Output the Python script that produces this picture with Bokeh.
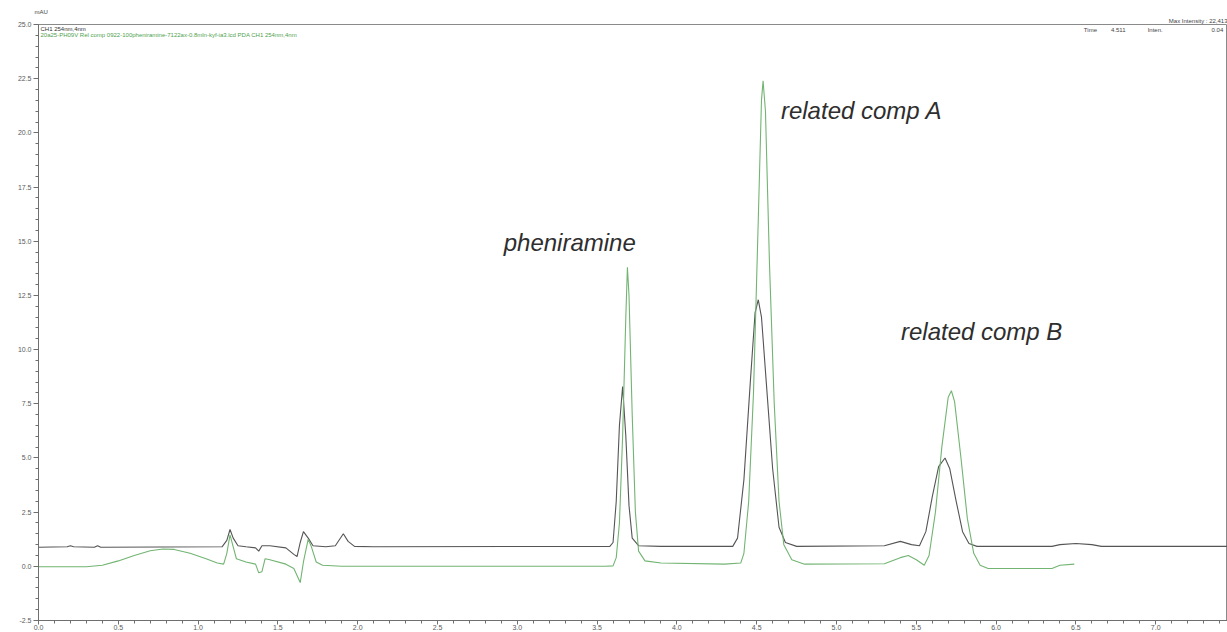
from bokeh.plotting import figure
from bokeh.models import Range1d, FixedTicker, PrintfTickFormatter, Label, Title
from bokeh.embed import file_html
from bokeh.resources import INLINE

# Retention time (min) and absorbance (mAU) of the two overlaid PDA traces, CH1 254 nm
green_time = [0.00, 0.30, 0.40, 0.50, 0.60, 0.70, 0.78, 0.85, 0.95, 1.05, 1.12, 1.16, 1.18, 1.20,
              1.22, 1.24, 1.30, 1.36, 1.38, 1.40, 1.42, 1.45, 1.55, 1.60, 1.64, 1.66, 1.69, 1.71,
              1.74, 1.78, 1.90, 3.55, 3.60, 3.62, 3.64, 3.66, 3.68, 3.69, 3.70, 3.72, 3.74, 3.76,
              3.80, 3.90, 4.30, 4.40, 4.42, 4.45, 4.48, 4.51, 4.53, 4.54, 4.555, 4.58, 4.61, 4.64,
              4.67, 4.72, 4.80, 5.30, 5.40, 5.45, 5.50, 5.55, 5.58, 5.62, 5.66, 5.70, 5.72, 5.74,
              5.78, 5.82, 5.86, 5.90, 5.95, 6.35, 6.40, 6.49]
green_mau = [-0.02, -0.02, 0.05, 0.25, 0.50, 0.72, 0.80, 0.78, 0.60, 0.35, 0.15, 0.10, 0.60, 1.45,
             0.90, 0.35, 0.20, 0.10, -0.30, -0.25, 0.35, 0.30, 0.10, -0.10, -0.75, 0.20, 1.25, 0.90,
             0.20, 0.05, 0.00, 0.00, 0.02, 0.40, 2.00, 6.00, 11.50, 13.80, 12.50, 7.00, 2.50, 0.70,
             0.25, 0.15, 0.10, 0.15, 0.60, 3.00, 8.00, 16.00, 21.50, 22.40, 21.00, 14.00, 7.50, 3.00,
             1.00, 0.30, 0.10, 0.12, 0.40, 0.50, 0.30, 0.05, 0.50, 2.50, 5.50, 7.80, 8.10, 7.60,
             5.00, 2.20, 0.60, 0.05, -0.10, -0.10, 0.05, 0.10]

dark_time = [0.00, 0.18, 0.20, 0.22, 0.35, 0.37, 0.39, 1.15, 1.18, 1.20, 1.22, 1.25, 1.30, 1.36,
             1.38, 1.40, 1.45, 1.55, 1.60, 1.62, 1.64, 1.66, 1.69, 1.72, 1.80, 1.86, 1.91, 1.94,
             1.98, 2.10, 3.58, 3.60, 3.62, 3.64, 3.66, 3.68, 3.70, 3.72, 3.76, 3.90, 4.35, 4.38,
             4.42, 4.46, 4.49, 4.51, 4.53, 4.56, 4.60, 4.64, 4.68, 4.75, 5.30, 5.40, 5.47, 5.52,
             5.56, 5.60, 5.64, 5.68, 5.71, 5.75, 5.79, 5.83, 5.88, 6.35, 6.40, 6.50, 6.60, 6.66,
             7.45]
dark_mau = [0.88, 0.90, 0.95, 0.90, 0.88, 0.95, 0.88, 0.90, 1.20, 1.70, 1.30, 0.95, 0.90, 0.85,
            0.70, 0.95, 0.95, 0.85, 0.55, 0.45, 1.10, 1.60, 1.30, 0.95, 0.90, 0.95, 1.50, 1.15,
            0.92, 0.90, 0.92, 1.10, 3.00, 6.50, 8.30, 6.00, 2.80, 1.30, 0.95, 0.92, 0.92, 1.30,
            4.00, 8.50, 11.70, 12.30, 11.50, 8.50, 4.50, 1.80, 1.10, 0.92, 0.95, 1.15, 1.00, 0.95,
            1.60, 3.20, 4.60, 5.00, 4.50, 3.00, 1.60, 1.05, 0.92, 0.92, 1.00, 1.05, 1.00, 0.92,
            0.92]

# Peak names with their retention time / height anchors for the labels
peak_names = ["pheniramine", "related comp A", "related comp B"]
peak_label_x = [2.915, 4.652, 5.404]
peak_label_y = [14.95, 21.04, 10.84]

x_ticks = [0.0, 0.5, 1.0, 1.5, 2.0, 2.5, 3.0, 3.5, 4.0, 4.5, 5.0, 5.5, 6.0, 6.5, 7.0, 7.5]
y_ticks = [-2.5, 0.0, 2.5, 5.0, 7.5, 10.0, 12.5, 15.0, 17.5, 20.0, 22.5, 25.0]

FONT = "Liberation Sans"
AXIS_GREY = "#6f6f6f"
LABEL_GREY = "#5a5a5a"
DARK = "#555555"
GREEN = "#72b472"

p = figure(width=1227, height=632, output_backend="svg", toolbar_location=None,
           x_range=Range1d(0, 7.45), y_range=Range1d(-2.5, 25.0),
           min_border_left=38, min_border_right=0, min_border_top=24, min_border_bottom=12)
p.grid.visible = False
p.outline_line_color = "#8a8a8a"
p.outline_line_width = 1
p.background_fill_color = "white"
p.border_fill_color = "white"

x_minor = [round(i * 0.1, 2) for i in range(0, 76)]
y_minor = [round(-2.5 + i * 0.5, 2) for i in range(0, 56)]

p.xaxis.ticker = FixedTicker(ticks=x_ticks, minor_ticks=x_minor)
p.yaxis.ticker = FixedTicker(ticks=y_ticks, minor_ticks=y_minor)
p.xaxis.formatter = PrintfTickFormatter(format="%.1f")
p.yaxis.formatter = PrintfTickFormatter(format="%.1f")

for ax in (p.xaxis[0], p.yaxis[0]):
    ax.axis_line_color = AXIS_GREY
    ax.major_tick_line_color = AXIS_GREY
    ax.minor_tick_line_color = AXIS_GREY
    ax.minor_tick_line_width = 1
    ax.major_tick_in = 0
    ax.minor_tick_in = 0
    ax.major_label_text_font = FONT
    ax.major_label_text_font_size = "7px"
    ax.major_label_text_color = LABEL_GREY

p.xaxis.major_tick_out = 4
p.xaxis.minor_tick_out = 3
p.xaxis.major_label_standoff = 0
p.yaxis.major_tick_out = 5
p.yaxis.minor_tick_out = 3
p.yaxis.major_label_standoff = 2

# Report header lines above the frame
p.add_layout(Title(text="Max Intensity : 22,413", align="right", text_font=FONT,
                   text_font_size="6px", text_font_style="normal", text_color="#444444",
                   standoff=2, offset=0), "above")
p.add_layout(Title(text="mAU", align="left", text_font=FONT, text_font_size="6px",
                   text_font_style="normal", text_color="#444444", standoff=0, offset=-4), "above")

# Chromatogram traces
p.line(dark_time, dark_mau, line_color=DARK, line_width=1.1)
p.line(green_time, green_mau, line_color=GREEN, line_width=1.1)

# Peak annotations
for name, lx, ly in zip(peak_names, peak_label_x, peak_label_y):
    p.add_layout(Label(x=lx, y=ly, text=name, text_font=FONT, text_font_size="24px",
                       text_font_style="italic", text_color="#2e2e2e",
                       text_baseline="middle", text_align="left"))

# Header block inside the frame
header = [
    (0.0125, 24.78, "CH1 254nm,4nm", "#333333"),
    (0.0125, 24.50,
     "20a25-PH09V Rel comp 0922-100pheniramine-7122ax-0.8mln-kyf-ia3.lcd PDA CH1 254nm,4nm",
     "#4f9f4f"),
    (6.55, 24.73, "Time", "#444444"),
    (6.72, 24.73, "4.511", "#444444"),
    (6.95, 24.73, "Inten.", "#444444"),
    (7.35, 24.73, "0.04", "#444444"),
]
for hx, hy, txt, col in header:
    p.add_layout(Label(x=hx, y=hy, text=txt, text_font=FONT, text_font_size="6px",
                       text_color=col, text_baseline="middle", text_align="left"))

open("out.html", "w").write(file_html(p, INLINE))
